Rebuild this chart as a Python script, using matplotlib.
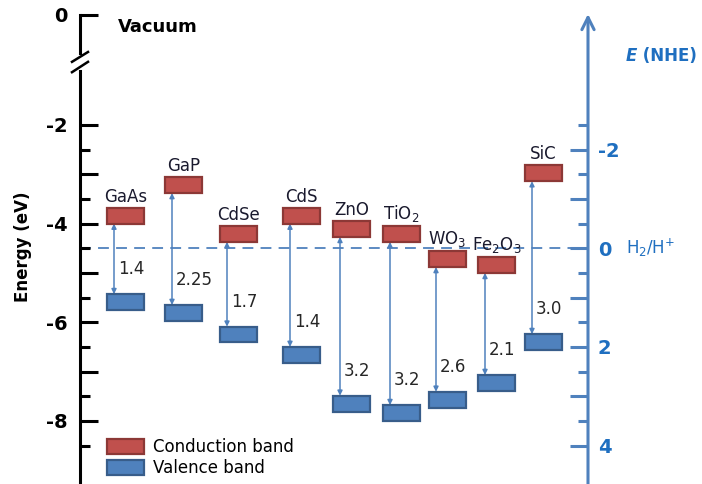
import matplotlib
matplotlib.use("Agg")
import matplotlib.pyplot as plt
from matplotlib.patches import Rectangle, Patch

# band edges vs vacuum (eV)
materials = ['GaAs', 'GaP', 'CdSe', 'CdS', 'ZnO', r'TiO$_2$', r'WO$_3$', r'Fe$_2$O$_3$', 'SiC']
cb_edge = [-4.0, -3.38, -4.37, -4.0, -4.27, -4.37, -4.88, -5.0, -3.14]
vb_edge = [-5.43, -5.65, -6.09, -6.5, -7.49, -7.68, -7.41, -7.07, -6.24]
gap_labels = ['1.4', '2.25', '1.7', '1.4', '3.2', '3.2', '2.6', '2.1', '3.0']

# layout (x in pixel-like units)
box_left = [107, 165, 220, 283, 333, 383, 429, 478, 525]
box_w = 37
box_h = 0.32

red = '#C0504D'
red_edge = '#8C3836'
blue = '#4F81BD'
blue_edge = '#385D8A'
txt_blue = '#1F6FC0'

fig = plt.figure(figsize=(7.02, 4.84), dpi=100)
ax = fig.add_axes([80/702, 0, 622/702, 1])
ax.set_xlim(80, 702)
ax.set_ylim(-9.28, 0.534)

for s in ['top', 'right', 'bottom']:
    ax.spines[s].set_visible(False)
ax.spines['left'].set_linewidth(2.2)
ax.spines['left'].set_bounds(-9.28, 0.23)
ax.set_xticks([])

major = [0.23, -2, -3, -4, -5, -6, -7, -8]
ax.set_yticks(major)
ax.set_yticklabels(['0', '-2', '', '-4', '', '-6', '', '-8'])
ax.set_yticks([-2.5, -3.5, -4.5, -5.5, -6.5, -7.5, -8.5], minor=True)
ax.tick_params(axis='y', which='major', direction='in', length=13, width=2.2, pad=9,
               labelsize=14)
ax.tick_params(axis='y', which='minor', direction='in', length=7, width=2.2)
for lab in ax.get_yticklabels():
    lab.set_fontweight('bold')
ax.set_ylabel('Energy (eV)', fontsize=12, fontweight='bold')
ax.yaxis.set_label_coords(-0.077, 0.49)

# axis break
ax.plot([80, 80], [-0.64, -0.80], color='white', lw=5, clip_on=False, zorder=4)
ax.plot([72, 88], [-0.72, -0.52], color='black', lw=1.8, clip_on=False, zorder=5)
ax.plot([72, 88], [-0.93, -0.72], color='black', lw=1.8, clip_on=False, zorder=5)
ax.text(118, -0.02, 'Vacuum', fontsize=13, fontweight='bold', va='center', ha='left')

# H2/H+ level
ax.plot([80, 588], [-4.5, -4.5], color=blue, lw=1.3, dashes=(6, 4), zorder=1)

for i, name in enumerate(materials):
    x0 = box_left[i]
    ax.add_patch(Rectangle((x0, cb_edge[i]), box_w, box_h, facecolor=red,
                           edgecolor=red_edge, lw=1.6, zorder=3))
    ax.add_patch(Rectangle((x0, vb_edge[i] - box_h), box_w, box_h, facecolor=blue,
                           edgecolor=blue_edge, lw=1.6, zorder=3))
    xa = x0 + 7
    ax.annotate('', xy=(xa, cb_edge[i]), xytext=(xa, vb_edge[i]),
                arrowprops=dict(arrowstyle='<|-|>', color=blue, lw=1.1,
                                mutation_scale=7, shrinkA=0, shrinkB=0), zorder=2)
    ax.text(xa + 4, vb_edge[i] + 0.5, gap_labels[i], fontsize=12, color='#262626',
            ha='left', va='center')
    ax.text(x0 + box_w / 2, cb_edge[i] + box_h + 0.04, name, fontsize=12,
            color='#1a1a2e', ha='center', va='bottom')

# NHE axis
ax2 = ax.twinx()
ax2.set_ylim(4.78, -5.034)
for s in ['top', 'left', 'bottom', 'right']:
    ax2.spines[s].set_visible(False)
ax2.spines['right'].set_position(('data', 588))
ax2.set_yticks([-2, -1, 0, 1, 2, 3, 4])
ax2.set_yticklabels(['-2', '', '0', '', '2', '', '4'])
ax2.set_yticks([-2.5, -1.5, -0.5, 0.5, 1.5, 2.5, 3.5], minor=True)
ax2.tick_params(axis='y', which='major', direction='in', length=13, width=2.2,
                color=blue, labelcolor=txt_blue, labelsize=14, pad=7)
ax2.tick_params(axis='y', which='minor', direction='in', length=7, width=2.2, color=blue)
for lab in ax2.get_yticklabels():
    lab.set_fontweight('bold')
ax.annotate('', xy=(588, 0.25), xytext=(588, -9.4),
            arrowprops=dict(arrowstyle='->', color=blue, lw=2.2, mutation_scale=22,
                            shrinkA=0, shrinkB=0), annotation_clip=False)
ax.text(637, -0.6, 'E', fontsize=12, fontweight='bold', style='italic',
        color=txt_blue, ha='right', va='center')
ax.text(637, -0.6, ' (NHE)', fontsize=12, fontweight='bold', color=txt_blue,
        ha='left', va='center')
ax.text(626, -4.5, r'H$_2$/H$^{+}$', fontsize=12, color=txt_blue, ha='left', va='center')

handles = [Patch(facecolor=red, edgecolor=red_edge, lw=1.6, label='Conduction band'),
           Patch(facecolor=blue, edgecolor=blue_edge, lw=1.6, label='Valence band')]
fig.legend(handles=handles, loc='upper left', bbox_to_anchor=(107/702, 1 - 438/484),
           frameon=False, fontsize=12, handlelength=2.2, handleheight=0.96,
           handletextpad=0.55, labelspacing=0.2, borderpad=0, borderaxespad=0)

fig.savefig('out.png', dpi=100)
